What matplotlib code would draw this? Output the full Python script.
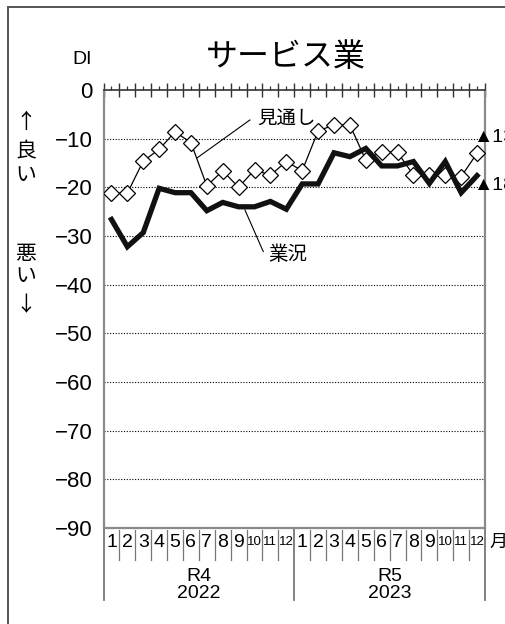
import matplotlib
matplotlib.use('Agg')
import matplotlib.pyplot as plt
from matplotlib import font_manager
from matplotlib.lines import Line2D

# DI values, Jan 2022 .. Dec 2023
months = list(range(1, 25))
month_labels = [str(m) for m in range(1, 13)] * 2
forecast = [-21.2, -21.2, -14.6, -12.2, -8.6, -10.8, -19.7, -16.6, -20.0, -16.4, -17.5, -14.7,
            -16.6, -8.4, -7.2, -7.2, -14.4, -12.7, -12.8, -17.5, -17.5, -17.5, -17.8, -13.0]
actual = [-26.6, -32.2, -29.3, -20.2, -21.1, -21.1, -24.8, -23.1, -24.0, -24.0, -22.9, -24.5,
          -19.3, -19.3, -12.9, -13.7, -12.0, -15.6, -15.6, -14.7, -19.2, -14.7, -21.1, -17.6]
yticks = [0, -10, -20, -30, -40, -50, -60, -70, -80, -90]
era_labels = ['R4', 'R5']
year_labels = ['2022', '2023']
last_forecast_label = '▲13'
last_actual_label = '▲18'

plt.rcParams['font.family'] = ['Liberation Sans', 'Noto Sans CJK JP']
installed = {f.name for f in font_manager.fontManager.ttflist}
narrow = 'Liberation Sans Narrow' if 'Liberation Sans Narrow' in installed else 'Liberation Sans'

W, H = 506, 624
fig = plt.figure(figsize=(W / 100, H / 100), dpi=100)
ax = fig.add_axes([103.5 / W, 1 - 528 / H, 381.5 / W, 438 / H])

ax.set_xlim(0.5, 24.5)
ax.set_ylim(-90, 0)

# grid
for v in yticks[1:-1]:
    ax.axhline(v, color='black', lw=0.8, ls=(0, (1, 1.5)), zorder=1)

ax.plot(months, forecast, color='black', lw=0.9, marker='D', markersize=8,
        markerfacecolor='white', markeredgecolor='black', markeredgewidth=0.9, zorder=3)
ax.plot(months, actual, color='#111111', lw=3.8, solid_joinstyle='miter', zorder=4)

# spines
for side in ['left', 'right', 'bottom']:
    ax.spines[side].set_color('#8a8a8a')
    ax.spines[side].set_linewidth(1.6)
ax.spines['top'].set_color('#333333')
ax.spines['top'].set_linewidth(1.2)

ax.set_yticks(yticks)
ax.set_yticklabels(['0'] + ['−' + str(-v) for v in yticks[1:]], fontsize=16)
ax.tick_params(axis='y', length=0, pad=8)

ax.xaxis.tick_top()
ax.set_xticks([m + 0.5 for m in range(0, 25)])
ax.set_xticklabels([])
ax.set_xticks(months, minor=True)
ax.tick_params(axis='x', which='major', direction='inout', length=9.4, width=1.0, color='#333333')
ax.tick_params(axis='x', which='minor', direction='out', length=3, width=0.9, color='#333333')

# month cells under the plot
xt = ax.get_xaxis_transform()
for m, lab in zip(months, month_labels):
    fs = 14 if len(lab) == 1 else 9.5
    ax.text(m, -0.032, lab, transform=xt, ha='center', va='center',
            fontsize=fs, family=narrow, clip_on=False)
for b in range(1, 24):
    if b == 12:
        continue
    ax.add_line(Line2D([b + 0.5, b + 0.5], [-0.004, -0.073], transform=xt,
                       color='#777777', lw=0.9, clip_on=False))
for b in [0.5, 12.5, 24.5]:
    ax.add_line(Line2D([b, b], [0, -0.164], transform=xt,
                       color='#777777', lw=1.3, clip_on=False))
for i, (era, yr) in enumerate(zip(era_labels, year_labels)):
    cx = 6.5 + 12 * i
    ax.text(cx, -0.110, era, transform=xt, ha='center', va='center', fontsize=14, clip_on=False)
    ax.text(cx, -0.150, yr, transform=xt, ha='center', va='center', fontsize=14, clip_on=False)
ax.text(24.75, -0.032, '月', transform=xt, ha='left', va='center', fontsize=13,
        family='Noto Sans CJK JP', clip_on=False)

# leader lines and labels
ax.plot([6.38, 9.71], [-13.97, -6.16], color='black', lw=0.8, zorder=2)
ax.text(10.15, -5.75, '見通し', ha='left', va='center', fontsize=14, family='Noto Sans CJK JP')
ax.plot([9.40, 10.55], [-24.66, -33.2], color='black', lw=0.8, zorder=2)
ax.text(10.85, -33.9, '業況', ha='left', va='center', fontsize=14, family='Noto Sans CJK JP')

ax.text(23.74, -9.7, last_forecast_label, ha='left', va='center', fontsize=14, clip_on=False)
ax.text(23.74, -19.7, last_actual_label, ha='left', va='center', fontsize=14, clip_on=False)

# title and side labels
fig.text(286 / W, 1 - 57 / H, 'サービス業', ha='center', va='center', fontsize=23,
         family='Noto Sans CJK JP')
fig.text(92 / W, 1 - 60 / H, 'DI', ha='right', va='center', fontsize=14)
for ch, yy in zip(['↑', '良', 'い'], [122, 151, 175]):
    fig.text(26 / W, 1 - yy / H, ch, ha='center', va='center', fontsize=15,
             family='Noto Sans CJK JP')
for ch, yy in zip(['悪', 'い', '↓'], [254, 276, 305]):
    fig.text(26 / W, 1 - yy / H, ch, ha='center', va='center', fontsize=15,
             family='Noto Sans CJK JP')

# outer frame (left and top edges show)
fig.add_artist(Line2D([8 / W, 8 / W], [0, 1 - 7 / H], transform=fig.transFigure,
                      color='#555555', lw=1.4))
fig.add_artist(Line2D([8 / W, 1], [1 - 7 / H, 1 - 7 / H], transform=fig.transFigure,
                      color='#555555', lw=1.4))

fig.savefig('out.png', dpi=100, facecolor='white')
